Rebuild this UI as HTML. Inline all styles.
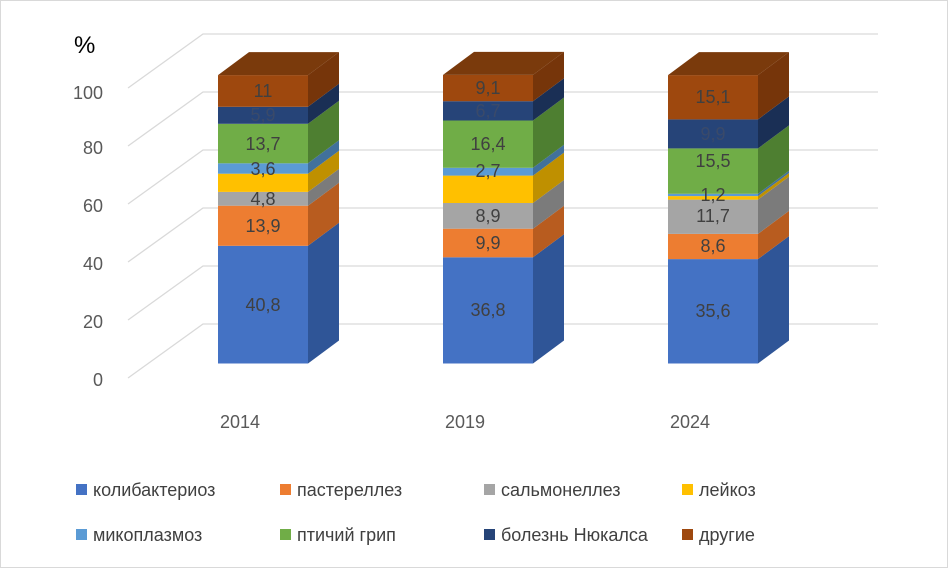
<!DOCTYPE html>
<html><head><meta charset="utf-8"><style>body{margin:0;background:#fff}svg{display:block}</style></head>
<body>
<svg width="949" height="569" viewBox="0 0 949 569" font-family="Liberation Sans, DejaVu Sans, sans-serif">
<rect x="0" y="0" width="949" height="569" fill="#fff"/>
<rect x="0.5" y="0.5" width="947" height="567" fill="none" stroke="#d9d9d9"/>
<g stroke="#d9d9d9" stroke-width="1.3" fill="none">
<path d="M128 378 L203 324 H878"/>
<path d="M128 320 L203 266 H878"/>
<path d="M128 262 L203 208 H878"/>
<path d="M128 204 L203 150 H878"/>
<path d="M128 146 L203 92 H878"/>
<path d="M128 88 L203 34 H878"/>
</g>
<g font-size="18" fill="#595959" text-anchor="end">
<text x="103" y="386">0</text><text x="103" y="328">20</text><text x="103" y="270">40</text>
<text x="103" y="212">60</text><text x="103" y="154">80</text><text x="103" y="99">100</text>
</g>
<text x="74" y="53" font-size="24" fill="#000">%</text>

<g>
<rect x="218" y="245.8" width="90" height="117.7" fill="#4472C4"/><polygon points="308,363.5 339,340.5 339,222.8 308,245.8" fill="#2F5597"/>
<rect x="218" y="205.7" width="90" height="40.1" fill="#ED7D31"/><polygon points="308,245.8 339,222.8 339,182.7 308,205.7" fill="#B85C1F"/>
<rect x="218" y="191.9" width="90" height="13.8" fill="#A5A5A5"/><polygon points="308,205.7 339,182.7 339,168.9 308,191.9" fill="#7B7B7B"/>
<rect x="218" y="173.7" width="90" height="18.2" fill="#FFC000"/><polygon points="308,191.9 339,168.9 339,150.7 308,173.7" fill="#BF9000"/>
<rect x="218" y="163.3" width="90" height="10.4" fill="#5B9BD5"/><polygon points="308,173.7 339,150.7 339,140.3 308,163.3" fill="#41719C"/>
<rect x="218" y="123.8" width="90" height="39.5" fill="#70AD47"/><polygon points="308,163.3 339,140.3 339,100.8 308,123.8" fill="#4E7F31"/>
<rect x="218" y="106.8" width="90" height="17" fill="#264478"/><polygon points="308,123.8 339,100.8 339,83.8 308,106.8" fill="#1A2F55"/>
<rect x="218" y="75.1" width="90" height="31.7" fill="#9E480E"/><polygon points="308,106.8 339,83.8 339,52.1 308,75.1" fill="#76350A"/>
<polygon points="218,75.1 249,52.1 339,52.1 308,75.1" fill="#7A3A0C"/>
</g>
<g>
<rect x="443" y="257.3" width="90" height="106.2" fill="#4472C4"/><polygon points="533,363.5 564,340.5 564,234.3 533,257.3" fill="#2F5597"/>
<rect x="443" y="228.7" width="90" height="28.6" fill="#ED7D31"/><polygon points="533,257.3 564,234.3 564,205.7 533,228.7" fill="#B85C1F"/>
<rect x="443" y="203" width="90" height="25.7" fill="#A5A5A5"/><polygon points="533,228.7 564,205.7 564,180 533,203" fill="#7B7B7B"/>
<rect x="443" y="175.6" width="90" height="27.4" fill="#FFC000"/><polygon points="533,203 564,180 564,152.6 533,175.6" fill="#BF9000"/>
<rect x="443" y="167.8" width="90" height="7.8" fill="#5B9BD5"/><polygon points="533,175.6 564,152.6 564,144.8 533,167.8" fill="#41719C"/>
<rect x="443" y="120.5" width="90" height="47.3" fill="#70AD47"/><polygon points="533,167.8 564,144.8 564,97.5 533,120.5" fill="#4E7F31"/>
<rect x="443" y="101.2" width="90" height="19.3" fill="#264478"/><polygon points="533,120.5 564,97.5 564,78.2 533,101.2" fill="#1A2F55"/>
<rect x="443" y="74.9" width="90" height="26.3" fill="#9E480E"/><polygon points="533,101.2 564,78.2 564,51.9 533,74.9" fill="#76350A"/>
<polygon points="443,74.9 474,51.9 564,51.9 533,74.9" fill="#7A3A0C"/>
</g>
<g>
<rect x="668" y="259.1" width="90" height="104.4" fill="#4472C4"/><polygon points="758,363.5 789,340.5 789,236.1 758,259.1" fill="#2F5597"/>
<rect x="668" y="233.9" width="90" height="25.2" fill="#ED7D31"/><polygon points="758,259.1 789,236.1 789,210.9 758,233.9" fill="#B85C1F"/>
<rect x="668" y="199.6" width="90" height="34.3" fill="#A5A5A5"/><polygon points="758,233.9 789,210.9 789,176.6 758,199.6" fill="#7B7B7B"/>
<rect x="668" y="196.1" width="90" height="3.5" fill="#FFC000"/><polygon points="758,199.6 789,176.6 789,173.1 758,196.1" fill="#BF9000"/>
<rect x="668" y="193.8" width="90" height="2.3" fill="#5B9BD5"/><polygon points="758,196.1 789,173.1 789,170.8 758,193.8" fill="#41719C"/>
<rect x="668" y="148.4" width="90" height="45.4" fill="#70AD47"/><polygon points="758,193.8 789,170.8 789,125.4 758,148.4" fill="#4E7F31"/>
<rect x="668" y="119.4" width="90" height="29" fill="#264478"/><polygon points="758,148.4 789,125.4 789,96.4 758,119.4" fill="#1A2F55"/>
<rect x="668" y="75.1" width="90" height="44.3" fill="#9E480E"/><polygon points="758,119.4 789,96.4 789,52.1 758,75.1" fill="#76350A"/>
<polygon points="668,75.1 699,52.1 789,52.1 758,75.1" fill="#7A3A0C"/>
</g>

<g font-size="18" fill="#404040" text-anchor="middle">
<text x="263" y="311">40,8</text><text x="263" y="232">13,9</text><text x="263" y="205">4,8</text>
<text x="263" y="175">3,6</text><text x="263" y="150">13,7</text><text x="263" y="121" fill="#3a4a6a">5,9</text><text x="263" y="97">11</text>
<text x="488" y="316">36,8</text><text x="488" y="249">9,9</text><text x="488" y="222">8,9</text>
<text x="488" y="177">2,7</text><text x="488" y="150">16,4</text><text x="488" y="117" fill="#3a4a6a">6,7</text><text x="488" y="94">9,1</text>
<text x="713" y="317">35,6</text><text x="713" y="252">8,6</text><text x="713" y="222">11,7</text>
<text x="713" y="201">1,2</text><text x="713" y="167">15,5</text><text x="713" y="140" fill="#3a4a6a">9,9</text><text x="713" y="103">15,1</text>
</g>

<g font-size="18" fill="#595959" text-anchor="middle">
<text x="240" y="428">2014</text><text x="465" y="428">2019</text><text x="690" y="428">2024</text>
</g>
<g font-size="18" fill="#404040">
<rect x="76" y="484" width="11" height="11" fill="#4472C4"/><text x="93" y="496">колибактериоз</text>
<rect x="280" y="484" width="11" height="11" fill="#ED7D31"/><text x="297" y="496">пастереллез</text>
<rect x="484" y="484" width="11" height="11" fill="#A5A5A5"/><text x="501" y="496">сальмонеллез</text>
<rect x="682" y="484" width="11" height="11" fill="#FFC000"/><text x="699" y="496">лейкоз</text>
<rect x="76" y="529" width="11" height="11" fill="#5B9BD5"/><text x="93" y="541">микоплазмоз</text>
<rect x="280" y="529" width="11" height="11" fill="#70AD47"/><text x="297" y="541">птичий грип</text>
<rect x="484" y="529" width="11" height="11" fill="#264478"/><text x="501" y="541">болезнь Нюкалса</text>
<rect x="682" y="529" width="11" height="11" fill="#9E480E"/><text x="699" y="541">другие</text>
</g>
</svg>
</body></html>
